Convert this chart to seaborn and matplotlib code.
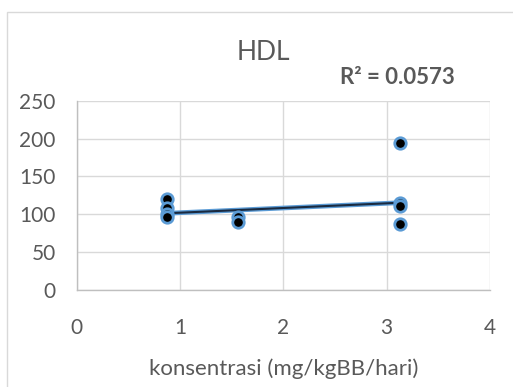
import numpy as np
import pandas as pd
import seaborn as sns
import matplotlib.pyplot as plt
from matplotlib.patches import Rectangle

# ------------------------------------------------------
# Data
# ------------------------------------------------------
dose = [0.875, 0.875, 0.875, 0.875, 1.5625, 1.5625, 3.125, 3.125, 3.125, 3.125]
hdl = [120, 108, 101, 97, 97, 90, 194, 115, 111, 87]

# Excel-style linear trendline, as printed on the chart
trend_slope = 6.2
trend_intercept = 95.9
r2_label = "R² = 0.0573"

x_ticks = [0, 1, 2, 3, 4]
y_ticks = [0, 50, 100, 150, 200, 250]

df = pd.DataFrame({"dose": dose, "hdl": hdl})

sns.set_theme(style="white")
plt.rcParams["font.family"] = ["Lato", "DejaVu Sans"]
txt = "#595959"

fig = plt.figure(figsize=(5.13, 3.87), dpi=100)
ax = fig.add_axes([0.1495, 0.2506, 0.8055, 0.4892])

# outer chart frame (cropped on the right/bottom)
fig.patches.append(Rectangle((7 / 513, -0.1), 1.2, 1 - 12 / 387 + 0.1,
                             transform=fig.transFigure, fill=False,
                             edgecolor="#d9d9d9", linewidth=1.0))

# trendline: blue glow under a dark line
tx = np.array([min(dose), max(dose)])
trend = pd.DataFrame({"dose": tx, "hdl": trend_intercept + trend_slope * tx})
sns.lineplot(data=trend, x="dose", y="hdl", ax=ax, color="#5b9bd5",
             linewidth=3.4, zorder=3)
sns.lineplot(data=trend, x="dose", y="hdl", ax=ax, color="#1a2a40",
             linewidth=1.5, zorder=4)

sns.scatterplot(data=df, x="dose", y="hdl", ax=ax, color="black",
                edgecolor="#5b9bd5", linewidth=2.0, s=68, zorder=5)

ax.set_xlim(0, 4)
ax.set_ylim(0, 250)
ax.set_xticks(x_ticks)
ax.set_yticks(y_ticks)
ax.grid(True, color="#d9d9d9", linewidth=1.0)
ax.set_axisbelow(True)
for s in ["top", "right"]:
    ax.spines[s].set_visible(False)
for s in ["left", "bottom"]:
    ax.spines[s].set_color("#bfbfbf")
    ax.spines[s].set_linewidth(1.0)
ax.tick_params(axis="both", length=0, labelsize=15, labelcolor=txt)
ax.tick_params(axis="y", pad=15)
ax.tick_params(axis="x", pad=20)

ax.set_xlabel("konsentrasi (mg/kgBB/hari)", fontsize=16, color=txt, labelpad=15)
ax.set_ylabel("")

fig.text(263 / 513, 1 - 53 / 387, "HDL", ha="center", va="center",
         fontsize=19, color=txt)
fig.text(397 / 513, 1 - 77 / 387, r2_label, ha="center", va="center",
         fontsize=16, color=txt, fontweight="bold")

fig.savefig("out.png", dpi=100)
